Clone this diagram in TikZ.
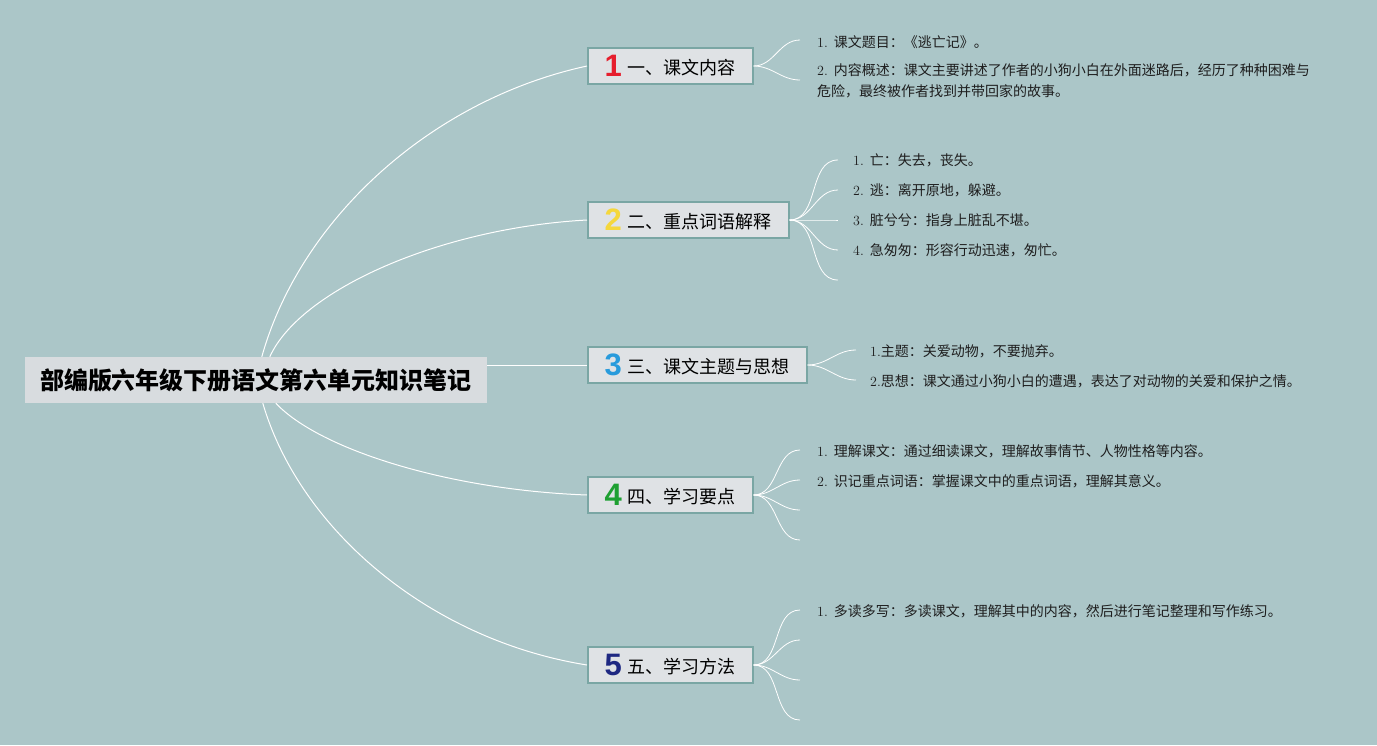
\documentclass[tikz,border=0pt]{standalone}
\usepackage{fontspec}
\usepackage{tikz}
\usetikzlibrary{positioning}
\newfontfamily\cjk{Noto Sans CJK SC}
\newfontfamily\numfont{Liberation Sans}
\definecolor{bgteal}{RGB}{171, 198, 200}
\definecolor{rootgray}{RGB}{216, 220, 223}
\definecolor{boxgray}{RGB}{223, 226, 229}
\definecolor{boxedge}{RGB}{122, 166, 164}
\definecolor{leafink}{RGB}{30, 30, 30}
\definecolor{numred}{RGB}{230, 30, 45}
\definecolor{numyellow}{RGB}{245, 215, 60}
\definecolor{numblue}{RGB}{40, 155, 220}
\definecolor{numgreen}{RGB}{30, 160, 50}
\definecolor{numnavy}{RGB}{30, 40, 130}
\newcommand{\numbadge}[3]{{\numfont\bfseries\fontsize{31}{31}\selectfont\color{#1}#2}\hspace{6pt}\raisebox{2.5pt}{#3}}

\begin{document}
\begin{tikzpicture}[x=1pt, y=-1pt,
    branchbox/.style={draw=boxedge, line width=1.5pt, fill=boxgray, minimum height=36pt, inner sep=0pt, anchor=west, font=\cjk\fontsize{18}{18}\selectfont},
    leaftext/.style={anchor=west, inner sep=0pt, align=left, text=leafink, font=\fontsize{14}{21}\selectfont},
    link/.style={white, line width=1pt},
    twig/.style={white, line width=0.8pt}]
    % Background and margins
    \fill[bgteal] (0, 0) rectangle (1377, 745);

    % Central topic
    \node[fill=rootgray, minimum width=462pt, minimum height=46pt, inner sep=0pt, font=\cjk\bfseries\fontsize{24}{24}\selectfont] (root) at (256, 380) {部编版六年级下册语文第六单元知识笔记};

    % Main branches
    \node[branchbox, minimum width=165pt] (b1) at (587, 66) {\numbadge{numred}{1}{一、课文内容}};
    \node[branchbox, minimum width=201pt] (b2) at (587, 220) {\numbadge{numyellow}{2}{二、重点词语解释}};
    \node[branchbox, minimum width=219pt] (b3) at (587, 365) {\numbadge{numblue}{3}{三、课文主题与思想}};
    \node[branchbox, minimum width=165pt] (b4) at (587, 495) {\numbadge{numgreen}{4}{四、学习要点}};
    \node[branchbox, minimum width=165pt] (b5) at (587, 665) {\numbadge{numnavy}{5}{五、学习方法}};

    % Links from the centre
    \draw[link] ([xshift=237pt]root.north west) .. controls (300, 220) and (430, 100) .. (b1.west);
    \draw[link] ([xshift=245pt]root.north west) .. controls (300, 290) and (440, 228) .. (b2.west);
    \draw[link] (root.east |- b3.west) -- (b3.west);
    \draw[link] ([xshift=251pt]root.south west) .. controls (320, 450) and (450, 490) .. (b4.west);
    \draw[link] ([xshift=238pt]root.south west) .. controls (300, 530) and (430, 640) .. (b5.west);

    % Leaf texts
    \node[leaftext] (l11) at (817, 42) {1. \cjk 课文题目：《逃亡记》。};
    \node[leaftext] (l12) at (817, 81) {2. \cjk 内容概述：课文主要讲述了作者的小狗小白在外面迷路后，经历了种种困难与\\\cjk 危险，最终被作者找到并带回家的故事。};
    \node[leaftext] (l21) at (853, 160) {1. \cjk 亡：失去，丧失。};
    \node[leaftext] (l22) at (853, 190) {2. \cjk 逃：离开原地，躲避。};
    \node[leaftext] (l23) at (853, 220) {3. \cjk 脏兮兮：指身上脏乱不堪。};
    \node[leaftext] (l24) at (853, 250) {4. \cjk 急匆匆：形容行动迅速，匆忙。};
    \node[leaftext] (l31) at (870, 351) {1.\cjk 主题：关爱动物，不要抛弃。};
    \node[leaftext] (l32) at (870, 381) {2.\cjk 思想：课文通过小狗小白的遭遇，表达了对动物的关爱和保护之情。};
    \node[leaftext] (l41) at (817, 451) {1. \cjk 理解课文：通过细读课文，理解故事情节、人物性格等内容。};
    \node[leaftext] (l42) at (817, 481) {2. \cjk 识记重点词语：掌握课文中的重点词语，理解其意义。};
    \node[leaftext] (l51) at (817, 611) {1. \cjk 多读多写：多读课文，理解其中的内容，然后进行笔记整理和写作练习。};

    % Twigs to the leaves
    \foreach \y [count=\i] in {40, 80} {
        \coordinate (t1\i) at (800, \y);
        \draw[twig] (b1.east) to[out=0, in=180] (t1\i);
    }
    \foreach \y [count=\i] in {160, 190, 220, 250, 280} {
        \coordinate (t2\i) at (838, \y);
        \draw[twig] (b2.east) to[out=0, in=180] (t2\i);
    }
    \foreach \y [count=\i] in {350, 380} {
        \coordinate (t3\i) at (856, \y);
        \draw[twig] (b3.east) to[out=0, in=180] (t3\i);
    }
    \foreach \y [count=\i] in {450, 480, 510, 540} {
        \coordinate (t4\i) at (800, \y);
        \draw[twig] (b4.east) to[out=0, in=180] (t4\i);
    }
    \foreach \y [count=\i] in {610, 640, 680, 720} {
        \coordinate (t5\i) at (800, \y);
        \draw[twig] (b5.east) to[out=0, in=180] (t5\i);
    }
\end{tikzpicture}
\end{document}
